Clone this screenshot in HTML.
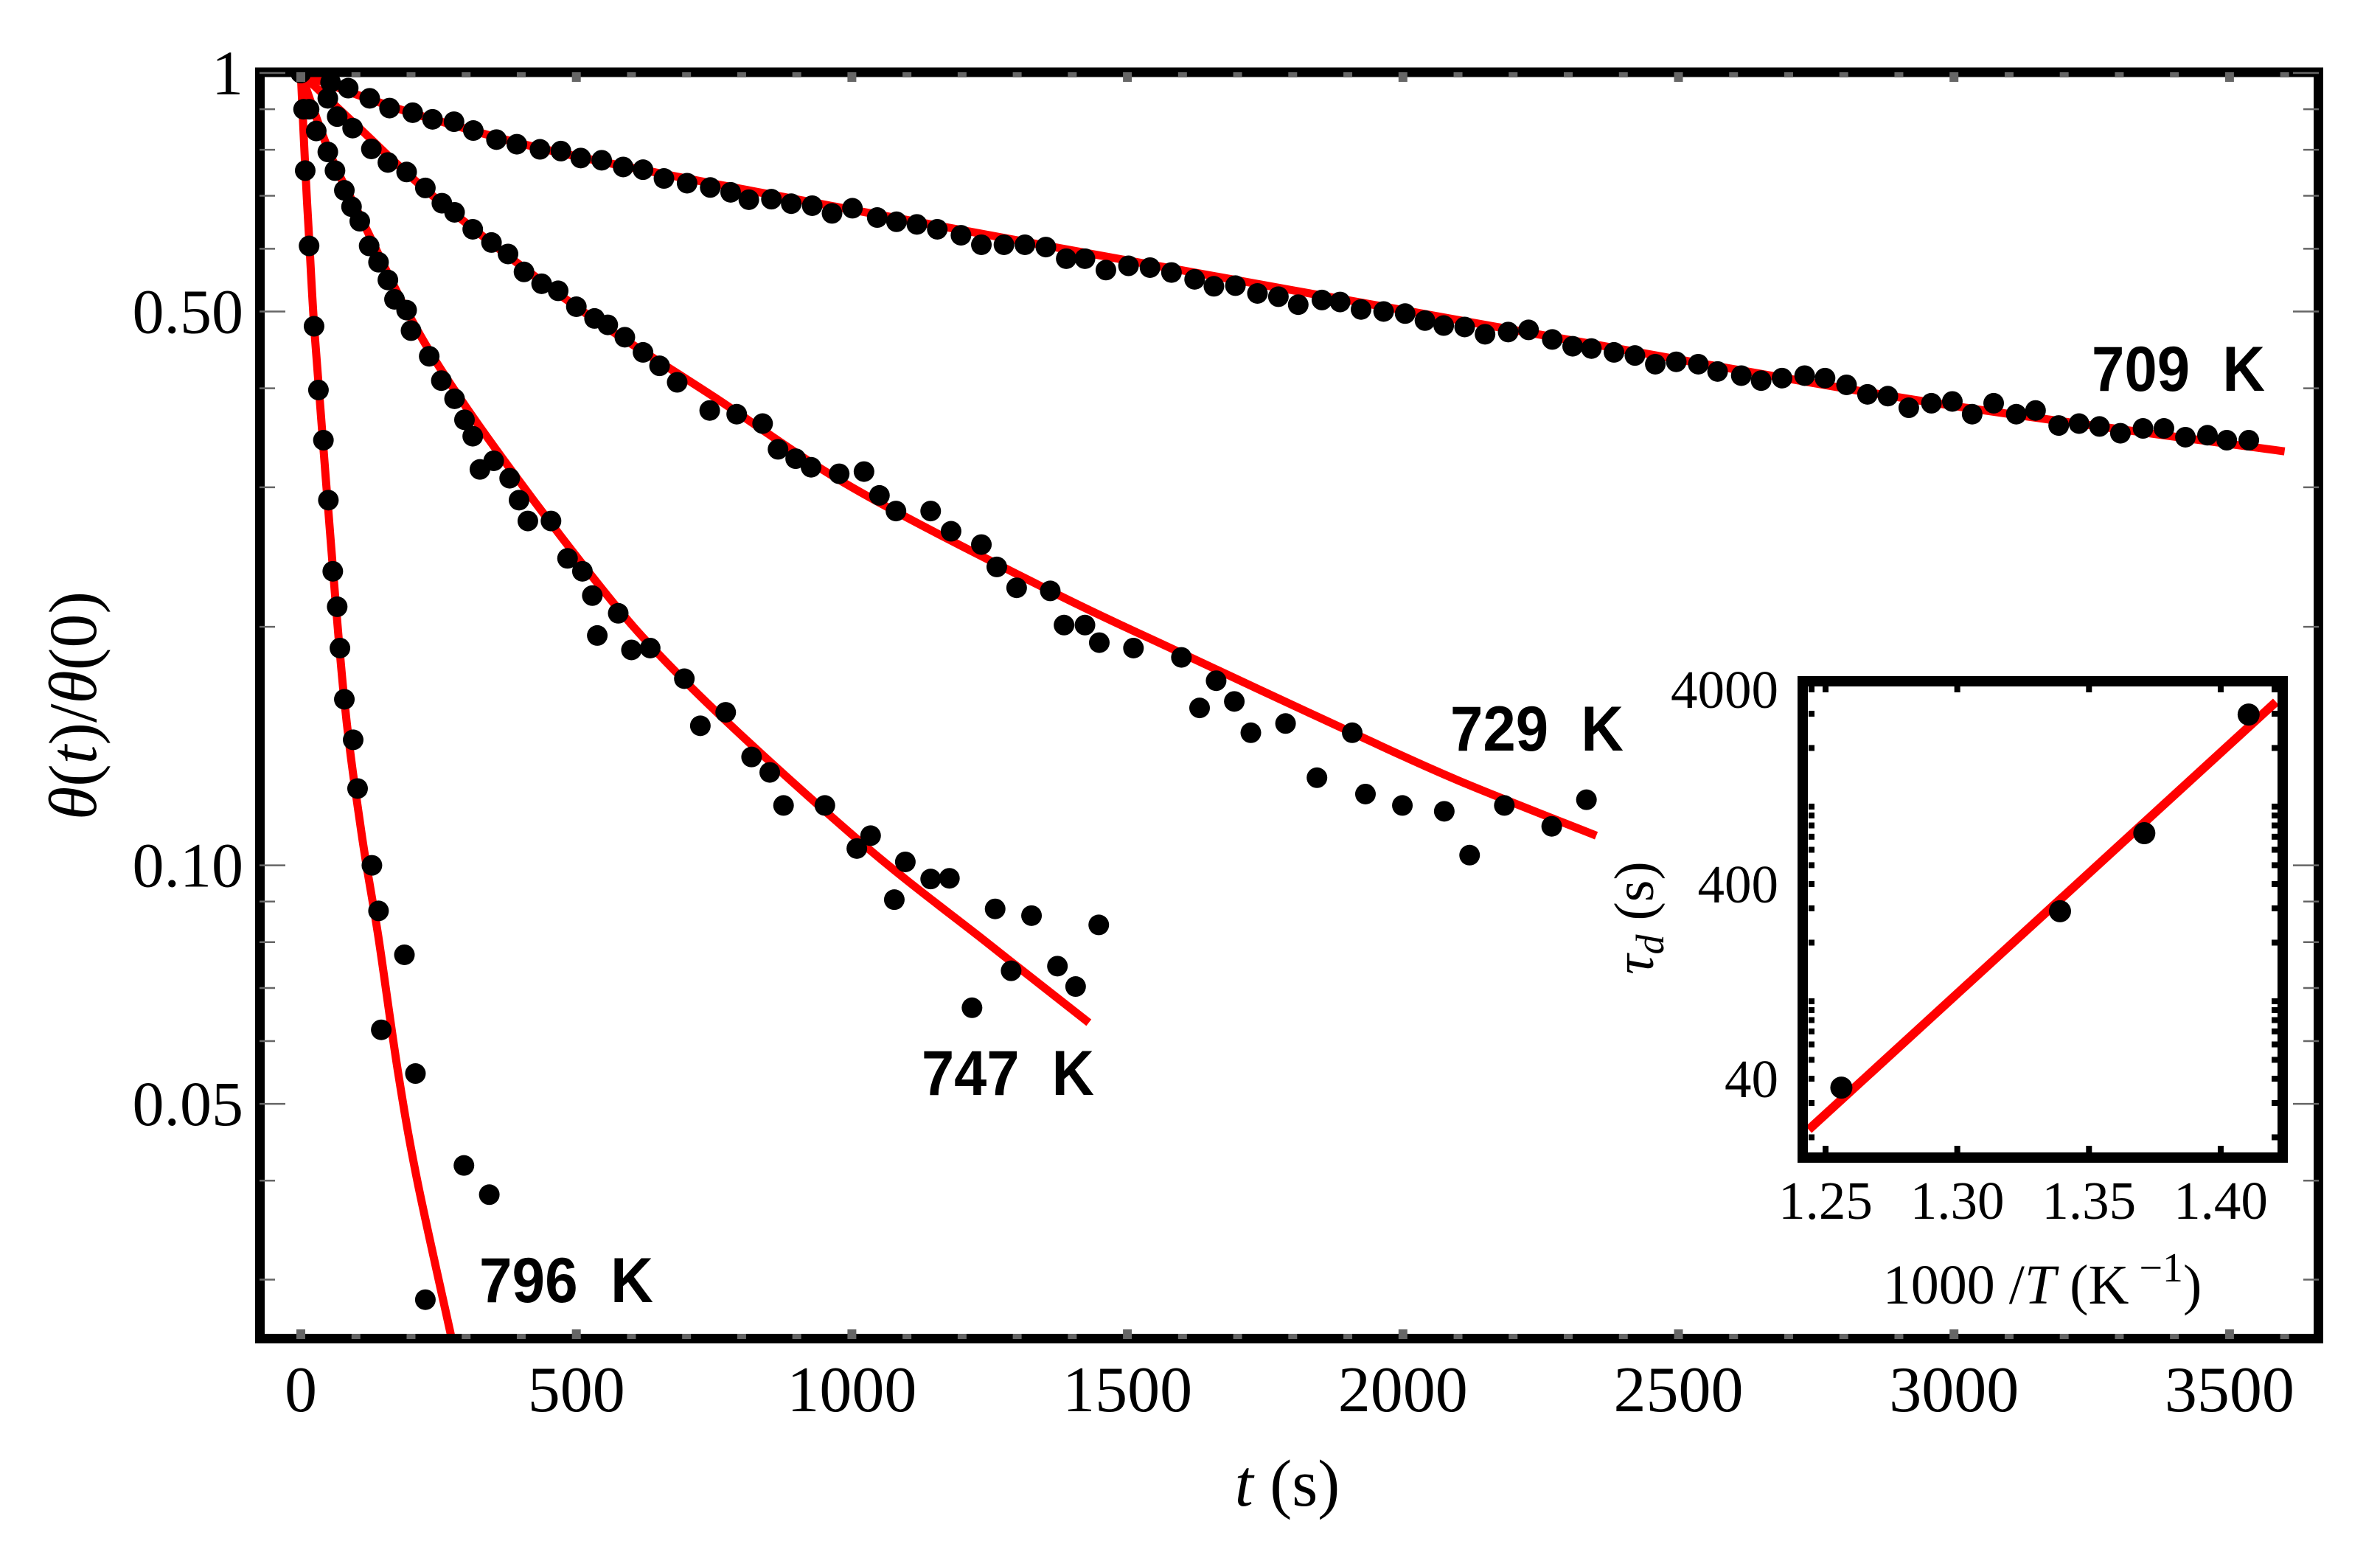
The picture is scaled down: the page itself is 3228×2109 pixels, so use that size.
<!DOCTYPE html>
<html><head><meta charset="utf-8"><style>
html,body{margin:0;padding:0;background:#fff;}
svg{display:block;}
.serif{font-family:"Liberation Serif",serif;}
.sans{font-family:"Liberation Sans",sans-serif;font-weight:bold;}
</style></head><body>
<svg id="chart" xmlns="http://www.w3.org/2000/svg" width="3228" height="2109" viewBox="0 0 3228 2109">
<defs><clipPath id="plotclip"><rect x="359" y="104" width="2779" height="1705"/></clipPath></defs>
<rect x="0" y="0" width="3228" height="2109" fill="#fff"/>
<g id="main-ticks"></g>
<g id="series" clip-path="url(#plotclip)"></g>
<rect x="352.5" y="98" width="2792" height="1717.5" fill="none" stroke="#000" stroke-width="13"/>
<g id="main-ticks-top"></g>
<g id="xlabels" class="serif" font-size="88" text-anchor="middle"></g>
<g id="ylabels" class="serif" font-size="86" text-anchor="end"></g>
<text class="serif" x="1746" y="2042" font-size="90" text-anchor="middle"><tspan font-style="italic">t</tspan> (s)</text>
<text class="serif" font-size="92" text-anchor="middle" transform="translate(130,957) rotate(-90)"><tspan font-style="italic">θ</tspan>(<tspan font-style="italic">t</tspan>)/<tspan font-style="italic">θ</tspan>(0)</text>
<text class="sans" x="2837" y="530" font-size="86" textLength="235" lengthAdjust="spacingAndGlyphs" xml:space="preserve">709  K</text>
<text class="sans" x="1967" y="1018" font-size="86" textLength="235" lengthAdjust="spacingAndGlyphs" xml:space="preserve">729  K</text>
<text class="sans" x="1250" y="1485" font-size="86" textLength="234" lengthAdjust="spacingAndGlyphs" xml:space="preserve">747  K</text>
<text class="sans" x="650" y="1766" font-size="86" textLength="236" lengthAdjust="spacingAndGlyphs" xml:space="preserve">796  K</text>
<g id="inset">
<rect x="2445" y="924" width="651" height="646" fill="#fff"/>
<g id="inset-ticks"></g>
<g id="inset-series"></g>
<rect x="2445" y="924" width="651" height="646" fill="none" stroke="#000" stroke-width="14"/>
<g id="inset-xlabels" class="serif" font-size="73" text-anchor="middle"></g>
<g id="inset-ylabels" class="serif" font-size="73" text-anchor="end"></g>
<text class="serif" x="2770" y="1768" font-size="76" text-anchor="middle">1000 /<tspan font-style="italic">T</tspan> (K<tspan dy="-30" font-size="56"> −1</tspan><tspan dy="30">)</tspan></text>
<text class="serif" font-size="76" text-anchor="middle" transform="translate(2242,1245) rotate(-90)"><tspan font-style="italic">τ</tspan><tspan font-style="italic" font-size="54" dy="14">d</tspan><tspan dy="-14"> (s)</tspan></text>
</g>
</svg>
<script>
// ---- main chart data ----
const xTicks = [0,500,1000,1500,2000,2500,3000,3500];
const xTickLabels = ["0","500","1000","1500","2000","2500","3000","3500"];
const yTicks = [1,0.5,0.1,0.05];
const yTickLabels = ["1","0.50","0.10","0.05"];
const yMinorTicks = [0.9,0.8,0.7,0.6,0.4,0.3,0.2,0.09,0.08,0.07,0.06,0.04,0.03];

const t709 = [0,54,86,125,161,203,239,278,313,355,392,434,472,508,546,585,621,659,701,743,780,813,854,890,928,964,1001,1046,1081,1118,1155,1198,1235,1276,1314,1352,1389,1423,1461,1502,1541,1580,1622,1657,1696,1736,1774,1810,1853,1886,1924,1965,2004,2040,2074,2112,2149,2191,2228,2271,2308,2342,2383,2421,2458,2496,2536,2571,2614,2650,2688,2729,2766,2805,2843,2880,2918,2959,2997,3033,3072,3113,3148,3190,3227,3264,3302,3343,3381,3420,3460,3495,3535];
const v709 = [1.0,0.973,0.957,0.929,0.903,0.891,0.874,0.868,0.846,0.824,0.813,0.801,0.797,0.781,0.776,0.761,0.755,0.736,0.726,0.717,0.707,0.692,0.693,0.684,0.680,0.665,0.675,0.657,0.649,0.644,0.635,0.624,0.607,0.607,0.607,0.603,0.583,0.583,0.564,0.571,0.568,0.560,0.549,0.538,0.539,0.527,0.522,0.510,0.517,0.514,0.503,0.500,0.497,0.487,0.480,0.478,0.468,0.471,0.474,0.461,0.452,0.449,0.444,0.440,0.429,0.432,0.429,0.420,0.415,0.409,0.412,0.415,0.412,0.404,0.393,0.391,0.378,0.383,0.385,0.371,0.383,0.371,0.375,0.359,0.361,0.358,0.351,0.356,0.356,0.347,0.349,0.344,0.344];
const fitT709 = [0,100,250,500,1000,1500,2000,2500,3000,3600];
const fitV709 = [1.0,0.94,0.87,0.785,0.672,0.58,0.502,0.435,0.38,0.333];

const t729 = [0,49,66,94,128,158,192,226,256,279,312,346,376,405,437,467,500,533,557,588,621,651,683,742,791,838,866,898,926,977,1022,1050,1080,1143,1180,1235,1263,1299,1360,1385,1423,1449,1511,1598,1631,1661,1694,1724,1787,1844,1908,1932,1999,2075,2121,2184,2270,2333];
const v729 = [1.0,0.929,0.881,0.852,0.802,0.771,0.750,0.716,0.685,0.667,0.635,0.611,0.591,0.561,0.542,0.531,0.507,0.490,0.481,0.464,0.444,0.427,0.407,0.375,0.371,0.361,0.335,0.326,0.318,0.312,0.314,0.293,0.280,0.280,0.264,0.254,0.238,0.224,0.222,0.201,0.201,0.191,0.188,0.183,0.158,0.171,0.161,0.147,0.151,0.129,0.147,0.123,0.119,0.117,0.103,0.119,0.112,0.121];
const fitT729 = [0,100,250,500,750,1000,1360,1600,1908,2100,2351];
const fitV729 = [1.0,0.86,0.69,0.507,0.39,0.30,0.222,0.185,0.147,0.128,0.109];

const t747 = [0,15,28,49,62,79,92,107,124,141,158,170,192,200,233,255,279,297,312,325,350,379,396,412,454,484,511,529,538,576,600,634,696,725,771,818,851,876,951,1009,1034,1077,1097,1143,1177,1218,1260,1289,1326,1373,1406,1448];
const v747 = [1.0,0.900,0.845,0.795,0.753,0.711,0.678,0.650,0.605,0.577,0.548,0.518,0.502,0.473,0.439,0.409,0.388,0.365,0.348,0.316,0.324,0.308,0.289,0.272,0.272,0.244,0.235,0.219,0.195,0.208,0.187,0.188,0.172,0.150,0.156,0.137,0.131,0.119,0.119,0.105,0.109,0.0905,0.101,0.0961,0.0963,0.0661,0.0881,0.0736,0.0864,0.0746,0.0703,0.0841];
const fitT747 = [0,50,100,250,511,700,1009,1250,1430];
const fitV747 = [1.0,0.80,0.676,0.427,0.240,0.170,0.108,0.0794,0.0633];

const t796 = [0,5,8,15,24,32,41,50,58,66,71,79,95,103,129,141,146,188,208,226,296,342];
const v796 = [1.0,0.90,0.753,0.605,0.479,0.398,0.344,0.289,0.235,0.212,0.188,0.162,0.144,0.125,0.100,0.0876,0.0620,0.0771,0.0546,0.0283,0.0418,0.0384];
const fitT796 = [0,8,15,25,45,78,110,141,177,212,272,285];
const fitV796 = [1.0,0.76,0.62,0.47,0.31,0.164,0.11,0.081,0.0545,0.0398,0.0256,0.0232];

// ---- inset data ----
const insetXTicks = [1.25,1.30,1.35,1.40];
const insetXTickLabels = ["1.25","1.30","1.35","1.40"];
const insetYTicks = [40,400,4000];
const insetYTickLabels = ["40","400","4000"];
const insetX = [1.256,1.339,1.371,1.4106];
const insetTau = [36,290,730,2970];
const insetFitX = [1.2436,1.421];
const insetFitTau = [21.9,3450];

const NS = "http://www.w3.org/2000/svg";
function mk(tag, attrs, parent){ const e=document.createElementNS(NS,tag); for(const k in attrs) e.setAttribute(k,attrs[k]); parent.appendChild(e); return e; }
const xS = t => 408 + 0.7474*t;
const yS = v => 99 - 1074.6*Math.log10(v);
const ixS = x => 2476 + (x-1.25)*3573;
const iyS = v => 935 - 264*(Math.log10(v)-Math.log10(4000));

function smoothPath(pts){
  let d = "M"+pts[0][0].toFixed(1)+","+pts[0][1].toFixed(1);
  for(let i=0;i<pts.length-1;i++){
    const p0=pts[Math.max(0,i-1)], p1=pts[i], p2=pts[i+1], p3=pts[Math.min(pts.length-1,i+2)];
    const c1=[p1[0]+(p2[0]-p0[0])/6, p1[1]+(p2[1]-p0[1])/6];
    const c2=[p2[0]-(p3[0]-p1[0])/6, p2[1]-(p3[1]-p1[1])/6];
    d += " C"+c1[0].toFixed(1)+","+c1[1].toFixed(1)+" "+c2[0].toFixed(1)+","+c2[1].toFixed(1)+" "+p2[0].toFixed(1)+","+p2[1].toFixed(1);
  }
  return d;
}

const tickG = document.getElementById('main-ticks-top');
yTicks.concat(yMinorTicks).forEach((v,i)=>{
  const major = yTicks.indexOf(v)>=0;
  const len = major?28:14;
  const y = yS(v);
  const l1 = mk('line',{x1:352,x2:359+len,y1:y,y2:y,stroke:'#666','stroke-width':2.5},tickG);
  
  
  const l2 = mk('line',{x1:3138-len,x2:3145,y1:y,y2:y,stroke:'#666','stroke-width':2.5},tickG);
  
  
});
for(let t=0;t<=3600;t+=100){
  const major = t%500===0;
  const x = xS(t);
  const b = mk('rect',{x:x-6,y:major?1803:1809,width:12,height:major?13:7,fill:'#666'},tickG);
  
  
  const tp = mk('rect',{x:x-6,y:98,width:12,height:major?13:7,fill:'#666'},tickG);
  
  
}
const xl = document.getElementById('xlabels');
xTicks.forEach((t,i)=>{
  const e = mk('text',{x:xS(t),y:1914},xl); e.textContent = xTickLabels[i];
  
  
});
const yl = document.getElementById('ylabels');
yTicks.forEach((v,i)=>{
  const e = mk('text',{x:330,y:yS(v)+29},yl); e.textContent = yTickLabels[i];
  
  
});

const sg = document.getElementById('series');
const all = [
  ['709k',t709,v709,fitT709,fitV709],
  ['729k',t729,v729,fitT729,fitV729],
  ['747k',t747,v747,fitT747,fitV747],
  ['796k',t796,v796,fitT796,fitV796]
];
all.forEach(s=>{
  const pts = s[3].map((t,i)=>[xS(t), yS(s[4][i])]);
  const p = mk('path',{d:smoothPath(pts),fill:'none',stroke:'#ff0000','stroke-width':11},sg);
  
  
});
all.forEach(s=>{
  s[1].forEach((t,i)=>{
    const c = mk('circle',{cx:xS(t),cy:yS(s[2][i]),r:14,fill:'#000'},sg);
    
    
  });
});

const itg = document.getElementById('inset-ticks');
insetXTicks.forEach(x=>{
  const a = mk('rect',{x:ixS(x)-4,y:929,width:8,height:10,fill:'#000'},itg);
  
  
  const b = mk('rect',{x:ixS(x)-4,y:1554,width:8,height:10,fill:'#000'},itg);
  
  
});
[20,30,40,50,60,70,80,90,100,200,300,400,500,600,700,800,900,1000,2000,3000,4000].forEach(v=>{
  const y = iyS(v);
  if(y<932||y>1560) return;
  const a = mk('rect',{x:2453,y:y-4,width:8,height:8,fill:'#000'},itg);
  
  
  const b = mk('rect',{x:3081,y:y-4,width:8,height:8,fill:'#000'},itg);
  
  
});
const isg = document.getElementById('inset-series');
const fl = mk('line',{x1:ixS(insetFitX[0]),y1:iyS(insetFitTau[0]),x2:ixS(insetFitX[1]),y2:iyS(insetFitTau[1]),stroke:'#ff0000','stroke-width':12},isg);


insetX.forEach((x,i)=>{
  const c = mk('circle',{cx:ixS(x),cy:iyS(insetTau[i]),r:15,fill:'#000'},isg);
  
  
});
const ixl = document.getElementById('inset-xlabels');
insetXTicks.forEach((x,i)=>{
  const e = mk('text',{x:ixS(x),y:1653},ixl); e.textContent = insetXTickLabels[i];
  
  
});
const iyl = document.getElementById('inset-ylabels');
insetYTicks.forEach((v,i)=>{
  const e = mk('text',{x:2412,y:iyS(v)+25},iyl); e.textContent = insetYTickLabels[i];
  
  
});
</script>
</body></html>
